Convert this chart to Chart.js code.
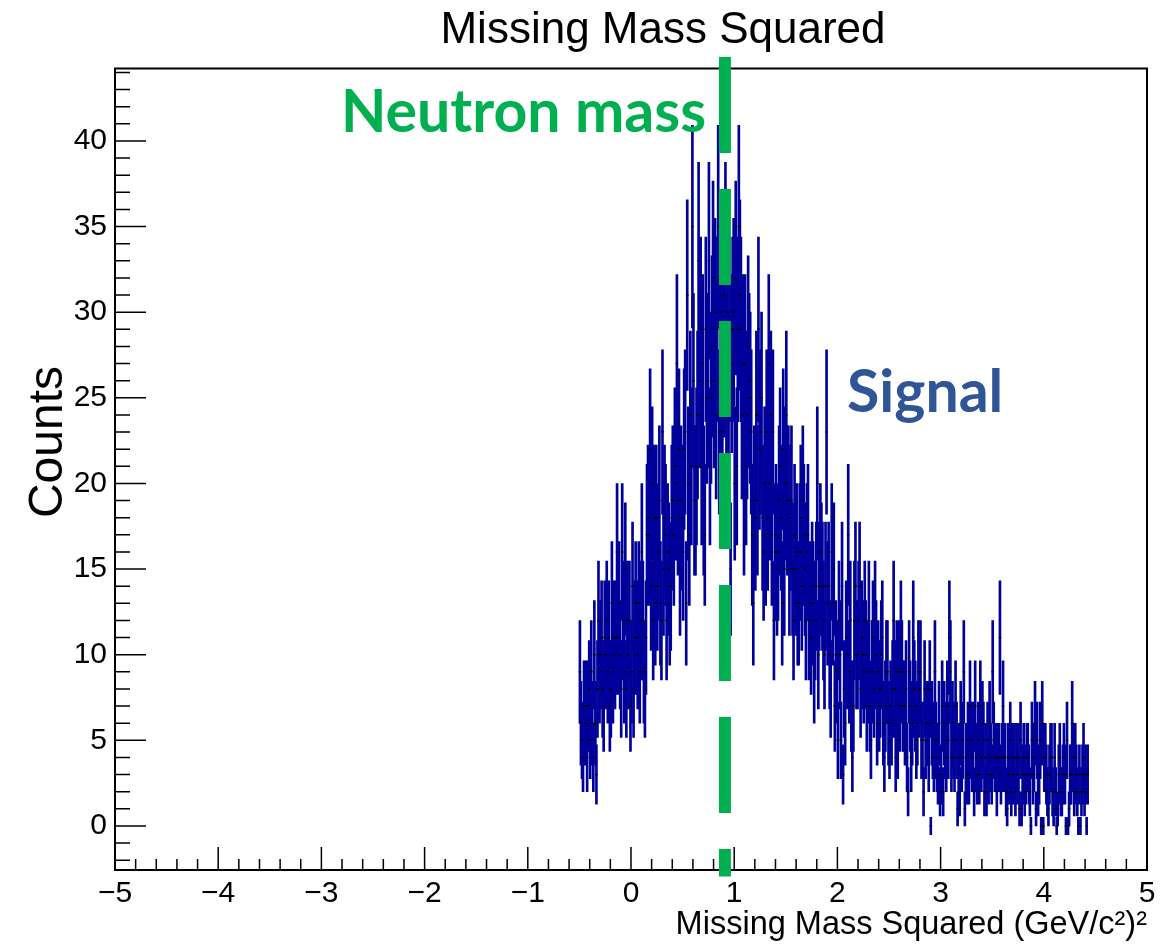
<!DOCTYPE html>
<html>
<head>
<meta charset="utf-8">
<script src="https://cdn.jsdelivr.net/npm/chart.js@4.4.1/dist/chart.umd.min.js"></script>
<style>
  html, body { margin: 0; padding: 0; background: #fff; }
  #c { display: block; }
</style>
</head>
<body>
<canvas id="c" width="1167" height="945"></canvas>
<script>
// histogram bins: 0.01 wide, first bin starts at -0.5
const binStart = -0.5;
const binWidth = 0.01;
const counts = [
  9,6,5,4,7,6,7,4,7,8,
  5,9,6,4,10,6,3,8,12,9,
  10,11,8,7,11,10,12,9,11,7,
  8,13,9,11,10,11,16,11,13,10,
  8,16,12,9,15,8,12,10,12,7,
  9,14,8,11,13,11,10,13,9,12,
  16,12,9,8,11,17,18,17,22,14,
  20,12,18,13,18,14,16,19,13,12,
  23,15,18,17,12,16,15,13,14,18,
  19,17,21,20,27,19,22,15,19,18,
  16,22,23,13,31,20,17,24,21,35,
  26,19,19,21,24,33,26,29,21,27,
  19,17,29,25,26,33,21,25,28,32,
  26,30,24,29,35,23,27,30,23,31,
  28,33,26,30,25,29,15,27,29,30,
  20,32,21,29,35,31,29,24,27,19,
  27,21,24,28,26,25,23,17,13,19,
  18,24,19,29,22,23,25,18,16,20,
  17,23,18,27,20,24,17,23,12,16,
  17,15,16,19,21,18,13,22,15,20,
  24,19,19,15,18,19,15,12,17,15,
  16,13,13,16,18,14,19,17,15,12,
  16,17,12,13,11,14,13,9,12,14,
  20,10,14,16,15,14,12,10,14,23,
  13,14,10,8,16,13,15,7,10,9,
  5,12,10,5,14,3,8,6,11,10,
  17,9,12,7,4,7,12,14,10,10,
  12,14,8,11,10,9,12,10,7,9,
  12,7,5,9,11,8,12,10,6,9,
  7,8,10,11,6,4,7,9,9,6,
  5,7,6,8,12,8,4,9,5,9,
  7,11,9,7,7,6,8,4,2,9,
  7,4,6,11,8,7,5,6,9,8,
  9,5,5,2,8,5,6,6,4,8,
  0,6,5,4,9,5,4,3,6,2,
  3,7,2,6,5,4,7,5,11,9,
  4,6,5,4,7,5,1,4,2,6,
  4,5,9,1,4,3,5,3,7,5,
  4,5,2,7,4,3,5,3,7,4,
  6,5,2,4,2,5,3,6,4,3,
  9,5,4,4,2,4,4,11,3,4,
  7,4,4,2,1,4,3,5,2,4,
  3,4,2,4,3,4,1,5,1,3,
  4,2,3,4,4,3,2,0,5,3,
  4,6,1,5,2,3,5,0,6,0,
  4,4,3,2,1,3,4,4,2,1,
  4,2,0,1,3,4,2,2,3,4,
  3,0,5,0,1,3,3,6,4,2,
  4,3,2,0,3,0,2,3,4,2,
  3,0,3
];
const xRange = [-5, 5];
const yRange = [-2.57, 44.23];
const neutronMassSq = 0.91;          // where the dashed marker sits
const markerSpan = [-2.95, 44.9];    // dashed marker runs a bit past the frame

const titleText = 'Missing Mass Squared';
const xTitle = 'Missing Mass Squared (GeV/c\u00b2)\u00b2';
const yTitle = 'Counts';

const binCenters = counts.map((_, i) => +(binStart + (i + 0.5) * binWidth).toFixed(3));
const errorBars = counts.map((n, i) => {
  const e = n > 0 ? Math.sqrt(n) : 0.5;
  return { x: binCenters[i], y: [n - e, n + e] };
});
const points = counts.map((n, i) => ({ x: binCenters[i], y: n }));

const helv = 'Liberation Sans, Arial, Helvetica, sans-serif';

// ROOT style frame with ticks pointing inwards
const rootFrame = {
  id: 'rootFrame',
  beforeDatasetsDraw(chart) {
    const { ctx, chartArea: a, scales: { x, y } } = chart;
    ctx.save();
    ctx.strokeStyle = '#000';
    ctx.lineWidth = 1.5;
    ctx.beginPath();
    for (let k = 0; k <= 50; k++) {
      const px = x.getPixelForValue(xRange[0] + k * 0.2);
      const len = k % 5 === 0 ? 23 : 11;
      ctx.moveTo(px, a.bottom);
      ctx.lineTo(px, a.bottom - len);
    }
    for (let v = Math.ceil(yRange[0]); v <= Math.floor(yRange[1]); v++) {
      const py = y.getPixelForValue(v);
      const len = v % 5 === 0 ? 31 : 15;
      ctx.moveTo(a.left, py);
      ctx.lineTo(a.left + len, py);
    }
    ctx.stroke();
    ctx.lineWidth = 2;
    ctx.strokeRect(a.left, a.top, a.right - a.left, a.bottom - a.top);
    ctx.restore();
  }
};

const notes = {
  id: 'notes',
  afterDraw(chart) {
    const { ctx } = chart;
    ctx.save();
    ctx.fillStyle = '#000';
    ctx.font = '44px ' + helv;
    ctx.textAlign = 'center';
    ctx.textBaseline = 'alphabetic';
    ctx.fillText(titleText, 663, 43);

    ctx.save();
    ctx.translate(62, 442);
    ctx.rotate(-Math.PI / 2);
    ctx.font = '48px ' + helv;
    ctx.fillText(yTitle, 0, 0);
    ctx.restore();

    ctx.textAlign = 'left';
    ctx.font = 'bold 59px Lato, sans-serif';
    ctx.fillStyle = '#00b050';
    ctx.fillText('Neutron mass', 341, 132);
    ctx.fillStyle = '#2f5597';
    ctx.fillText('Signal', 847, 412);
    ctx.restore();
  }
};

new Chart(document.getElementById('c'), {
  type: 'bar',
  data: {
    datasets: [
      {
        type: 'line',
        data: [{ x: neutronMassSq, y: markerSpan[1] }, { x: neutronMassSq, y: markerSpan[0] }],
        borderColor: '#00b050',
        borderWidth: 12,
        borderDash: [96, 36],
        borderCapStyle: 'butt',
        pointRadius: 0,
        clip: false,
        order: 0
      },
      {
        type: 'line',
        data: points,
        showLine: false,
        pointStyle: 'line',
        pointRadius: 1.3,
        pointBorderWidth: 1.5,
        pointBorderColor: '#000',
        pointBackgroundColor: '#000',
        order: 1
      },
      {
        type: 'bar',
        data: errorBars,
        backgroundColor: '#00009a',
        barThickness: 2,
        order: 2
      }
    ]
  },
  options: {
    responsive: false,
    animation: false,
    layout: { padding: { top: 68.5, right: 20, left: 0, bottom: 0 } },
    plugins: {
      legend: { display: false },
      tooltip: { enabled: false },
      title: { display: false }
    },
    scales: {
      x: {
        type: 'linear',
        min: xRange[0],
        max: xRange[1],
        offset: false,
        grid: { display: false, drawTicks: false },
        border: { display: false },
        ticks: {
          stepSize: 1,
          maxRotation: 0,
          padding: 6,
          color: '#000',
          font: { family: helv, size: 30 },
          callback: v => (v < 0 ? '\u2212' + Math.abs(v) : String(v))
        },
        title: {
          display: true,
          text: xTitle,
          align: 'end',
          color: '#000',
          font: { family: helv, size: 32.5 },
          padding: { top: 0, bottom: 0 }
        },
        afterFit: s => { s.height = 75; }
      },
      y: {
        min: yRange[0],
        max: yRange[1],
        grid: { display: false, drawTicks: false },
        border: { display: false },
        ticks: {
          stepSize: 5,
          includeBounds: false,
          padding: 8,
          color: '#000',
          font: { family: helv, size: 30 }
        },
        afterFit: s => { s.width = 115; }
      }
    }
  },
  plugins: [rootFrame, notes]
});
</script>
</body>
</html>
